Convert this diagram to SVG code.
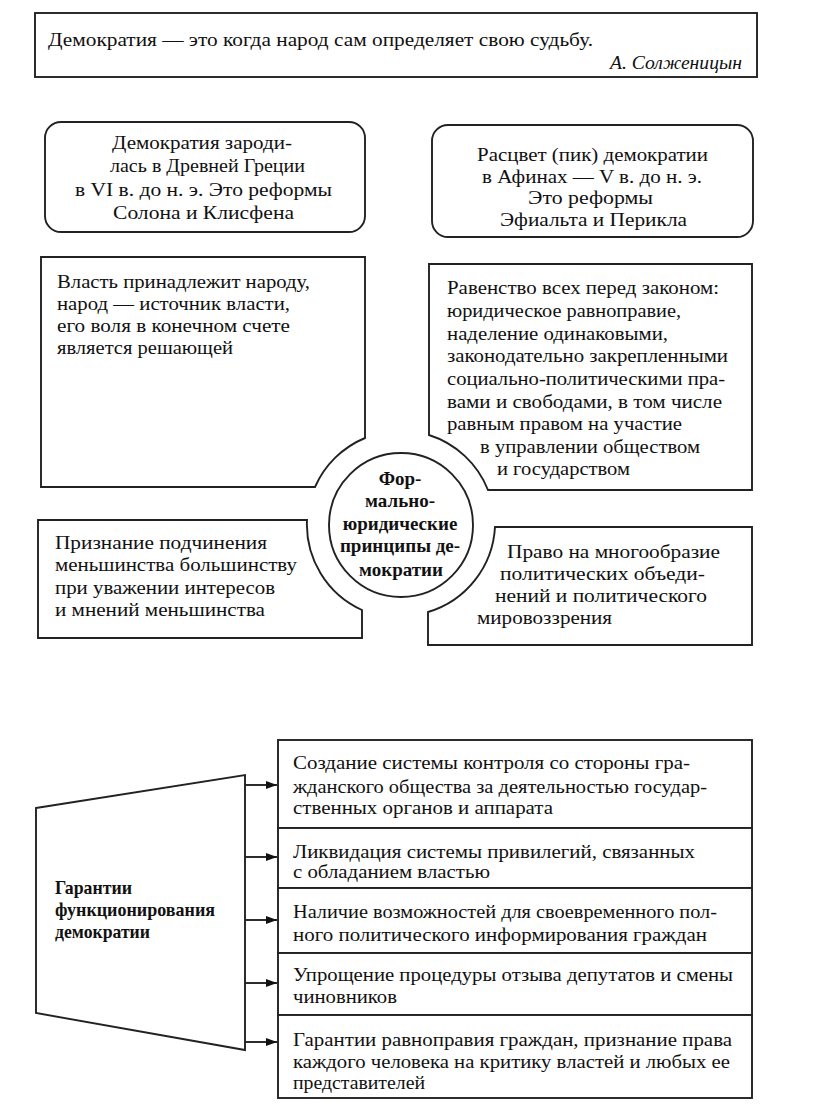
<svg xmlns="http://www.w3.org/2000/svg" width="816" height="1114" viewBox="0 0 816 1114">
<defs>
<style>
.b{fill:#fff;stroke:#222;stroke-width:1.9}
.t{font-family:"Liberation Serif","Times New Roman",serif;font-size:19px;fill:#111}
.c{text-anchor:middle}
.bd{font-weight:bold}
.cn{stroke:#222;stroke-width:1.9;fill:none}
</style>
<marker id="ah" markerWidth="12" markerHeight="10" refX="11" refY="5" orient="auto" markerUnits="userSpaceOnUse">
<path d="M0,1 L11,5 L0,9 Z" fill="#111"/>
</marker>
</defs>
<rect width="816" height="1114" fill="#fff"/>

<g id="quote">
<rect class="b" x="35" y="13" width="722" height="64"/>
<text class="t" x="48" y="46" font-size="20" textLength="545" lengthAdjust="spacingAndGlyphs">Демократия — это когда народ сам определяет свою судьбу.</text>
<text class="t" x="610" y="69" font-style="italic" font-size="17.5" textLength="132" lengthAdjust="spacingAndGlyphs">А. Солженицын</text>
</g>

<g id="origin">
<rect class="b" x="45" y="122" width="320" height="110" rx="16"/>
<text class="t" x="112" y="149" textLength="180" lengthAdjust="spacingAndGlyphs">Демократия зароди-</text>
<text class="t" x="110" y="172" textLength="195" lengthAdjust="spacingAndGlyphs">лась в Древней Греции</text>
<text class="t" x="75" y="196" textLength="257" lengthAdjust="spacingAndGlyphs">в VI в. до н. э. Это реформы</text>
<text class="t" x="113" y="219" textLength="181" lengthAdjust="spacingAndGlyphs">Солона и Клисфена</text>
</g>

<g id="peak">
<rect class="b" x="432" y="125" width="321" height="112" rx="16"/>
<text class="t" x="477" y="161" textLength="231" lengthAdjust="spacingAndGlyphs">Расцвет (пик) демократии</text>
<text class="t" x="482" y="183" textLength="220" lengthAdjust="spacingAndGlyphs">в Афинах — V в. до н. э.</text>
<text class="t" x="528" y="204" textLength="125" lengthAdjust="spacingAndGlyphs">Это реформы</text>
<text class="t" x="500" y="226" textLength="187" lengthAdjust="spacingAndGlyphs">Эфиальта и Перикла</text>
</g>

<g id="power">
<path class="b" d="M41,257 H365 V438 A94,94 0 0 0 315,487 H41 Z"/>
<text class="t" x="57" y="288" textLength="253" lengthAdjust="spacingAndGlyphs">Власть принадлежит народу,</text>
<text class="t" x="57" y="310" textLength="233" lengthAdjust="spacingAndGlyphs">народ — источник власти,</text>
<text class="t" x="57" y="332" textLength="233" lengthAdjust="spacingAndGlyphs">его воля в конечном счете</text>
<text class="t" x="57" y="354" textLength="176" lengthAdjust="spacingAndGlyphs">является решающей</text>
</g>

<g id="equality">
<path class="b" d="M429,264 H752 V490 H488 A94,94 0 0 0 429,435 Z"/>
<text class="t" x="447" y="294" textLength="272" lengthAdjust="spacingAndGlyphs">Равенство всех перед законом:</text>
<text class="t" x="447" y="317" textLength="234" lengthAdjust="spacingAndGlyphs">юридическое равноправие,</text>
<text class="t" x="447" y="340" textLength="221" lengthAdjust="spacingAndGlyphs">наделение одинаковыми,</text>
<text class="t" x="447" y="362" textLength="281" lengthAdjust="spacingAndGlyphs">законодательно закрепленными</text>
<text class="t" x="447" y="385" textLength="278" lengthAdjust="spacingAndGlyphs">социально-политическими пра-</text>
<text class="t" x="447" y="408" textLength="275" lengthAdjust="spacingAndGlyphs">вами и свободами, в том числе</text>
<text class="t" x="447" y="430" textLength="235" lengthAdjust="spacingAndGlyphs">равным правом на участие</text>
<text class="t" x="480" y="453" textLength="220" lengthAdjust="spacingAndGlyphs">в управлении обществом</text>
<text class="t" x="497" y="475" textLength="133" lengthAdjust="spacingAndGlyphs">и государством</text>
</g>

<g id="minority">
<path class="b" d="M38,520 H307 A94,94 0 0 0 362,610 V638 H38 Z"/>
<text class="t" x="55" y="549" textLength="212" lengthAdjust="spacingAndGlyphs">Признание подчинения</text>
<text class="t" x="55" y="571" textLength="242" lengthAdjust="spacingAndGlyphs">меньшинства большинству</text>
<text class="t" x="55" y="594" textLength="220" lengthAdjust="spacingAndGlyphs">при уважении интересов</text>
<text class="t" x="55" y="616" textLength="210" lengthAdjust="spacingAndGlyphs">и мнений меньшинства</text>
</g>

<g id="pluralism">
<path class="b" d="M495,527 H752 V645 H428 V612 A94,94 0 0 0 495,527 Z"/>
<text class="t" x="507" y="558" textLength="213" lengthAdjust="spacingAndGlyphs">Право на многообразие</text>
<text class="t" x="500" y="580" textLength="205" lengthAdjust="spacingAndGlyphs">политических объеди-</text>
<text class="t" x="495" y="602" textLength="212" lengthAdjust="spacingAndGlyphs">нений и политического</text>
<text class="t" x="477" y="624" textLength="135" lengthAdjust="spacingAndGlyphs">мировоззрения</text>
</g>

<g id="principles">
<circle class="b" cx="401" cy="525" r="72"/>
<text class="t c bd" x="400" y="485" font-size="16">Фор-</text>
<text class="t c bd" x="400" y="507" font-size="16">мально-</text>
<text class="t c bd" x="400" y="530" font-size="16">юридические</text>
<text class="t c bd" x="400" y="552" font-size="16">принципы де-</text>
<text class="t c bd" x="401" y="576" font-size="16">мократии</text>
</g>

<g id="guarantees">
<path class="b" d="M36,808 L245,775 V1050 L36,1013 Z"/>
<text class="t bd" x="55" y="894" font-size="16.5" textLength="77" lengthAdjust="spacingAndGlyphs">Гарантии</text>
<text class="t bd" x="55" y="916" font-size="16.5" textLength="160" lengthAdjust="spacingAndGlyphs">функционирования</text>
<text class="t bd" x="55" y="938" font-size="16.5" textLength="95" lengthAdjust="spacingAndGlyphs">демократии</text>
</g>

<g id="g1">
<rect class="b" x="278" y="740" width="474" height="88"/>
<text class="t" x="293" y="769" textLength="397" lengthAdjust="spacingAndGlyphs">Создание системы контроля со стороны гра-</text>
<text class="t" x="293" y="793" textLength="414" lengthAdjust="spacingAndGlyphs">жданского общества за деятельностью государ-</text>
<text class="t" x="293" y="814" textLength="260" lengthAdjust="spacingAndGlyphs">ственных органов и аппарата</text>
</g>
<g id="g2">
<rect class="b" x="278" y="828" width="474" height="60"/>
<text class="t" x="293" y="858" textLength="402" lengthAdjust="spacingAndGlyphs">Ликвидация системы привилегий, связанных</text>
<text class="t" x="293" y="878" textLength="197" lengthAdjust="spacingAndGlyphs">с обладанием властью</text>
</g>
<g id="g3">
<rect class="b" x="278" y="888" width="474" height="65"/>
<text class="t" x="293" y="918" textLength="424" lengthAdjust="spacingAndGlyphs">Наличие возможностей для своевременного пол-</text>
<text class="t" x="293" y="941" textLength="414" lengthAdjust="spacingAndGlyphs">ного политического информирования граждан</text>
</g>
<g id="g4">
<rect class="b" x="278" y="953" width="474" height="62"/>
<text class="t" x="293" y="981" textLength="440" lengthAdjust="spacingAndGlyphs">Упрощение процедуры отзыва депутатов и смены</text>
<text class="t" x="293" y="1003" textLength="104" lengthAdjust="spacingAndGlyphs">чиновников</text>
</g>
<g id="g5">
<rect class="b" x="278" y="1015" width="474" height="83"/>
<text class="t" x="293" y="1046" textLength="439" lengthAdjust="spacingAndGlyphs">Гарантии равноправия граждан, признание права</text>
<text class="t" x="293" y="1068" textLength="437" lengthAdjust="spacingAndGlyphs">каждого человека на критику властей и любых ее</text>
<text class="t" x="293" y="1089" textLength="132" lengthAdjust="spacingAndGlyphs">представителей</text>
</g>

<g id="connectors">
<line class="cn" x1="245" y1="785" x2="277" y2="785" marker-end="url(#ah)"/>
<line class="cn" x1="245" y1="857" x2="277" y2="857" marker-end="url(#ah)"/>
<line class="cn" x1="245" y1="920" x2="277" y2="920" marker-end="url(#ah)"/>
<line class="cn" x1="245" y1="983" x2="277" y2="983" marker-end="url(#ah)"/>
<line class="cn" x1="245" y1="1042" x2="277" y2="1042" marker-end="url(#ah)"/>
</g>
</svg>
